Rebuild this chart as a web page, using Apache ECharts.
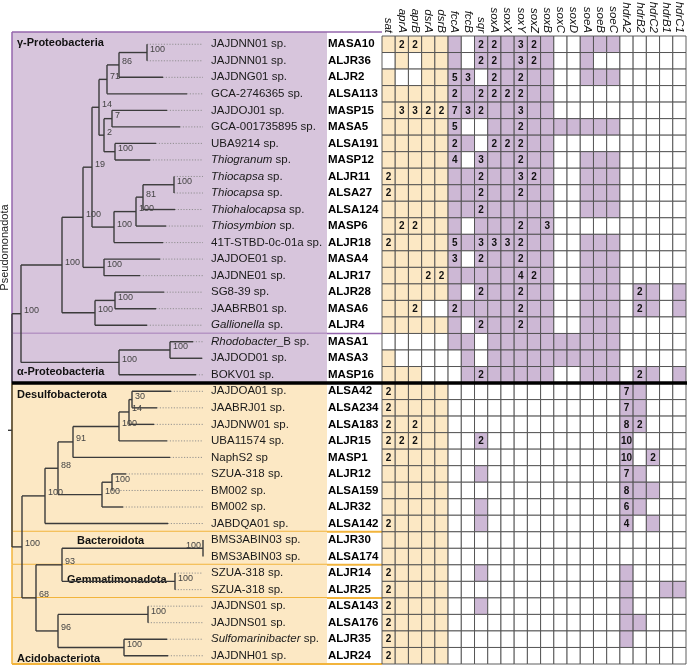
<!DOCTYPE html>
<html><head><meta charset="utf-8">
<script src="https://cdn.jsdelivr.net/npm/echarts@6/dist/echarts.min.js"></script>
<style>html,body{margin:0;padding:0;background:#fff}#c{width:687px;height:666px}</style>
</head><body><div id="c"></div>
<script>
// ---------------- DATA ----------------
const geneNames = ['sat','aprA','aprB','dsrA','dsrB','fccA','fccB','sqr','soxA','soxX','soxY','soxZ','soxB','soxC','soxD','soeA','soeB','soeC','hdrA2','hdrB2','hdrC2','hdrB1','hdrC1'];
const dsrPathwayGenes = ['sat','aprA','aprB','dsrA','dsrB'];

const genomeIds = ['MASA10','ALJR36','ALJR2','ALSA113','MASP15','MASA5','ALSA191','MASP12','ALJR11','ALSA27','ALSA124','MASP6','ALJR18','MASA4','ALJR17','ALJR28','MASA6','ALJR4','MASA1','MASA3','MASP16','ALSA42','ALSA234','ALSA183','ALJR15','MASP1','ALJR12','ALSA159','ALJR32','ALSA142','ALJR30','ALSA174','ALJR14','ALJR25','ALSA143','ALSA176','ALJR35','ALJR24'];

const taxonNames = ['JAJDNN01 sp.','JAJDNN01 sp.','JAJDNG01 sp.','GCA-2746365 sp.','JAJDOJ01 sp.','GCA-001735895 sp.','UBA9214 sp.','*Thiogranum* sp.','*Thiocapsa* sp.','*Thiocapsa* sp.','*Thiohalocapsa* sp.','*Thiosymbion* sp.','41T-STBD-0c-01a sp.','JAJDOE01 sp.','JAJDNE01 sp.','SG8-39 sp.','JAABRB01 sp.','*Gallionella* sp.','*Rhodobacter*_B sp.','JAJDOD01 sp.','BOKV01 sp.','JAJDOA01 sp.','JAABRJ01 sp.','JAJDNW01 sp.','UBA11574 sp.','NaphS2 sp','SZUA-318 sp.','BM002 sp.','BM002 sp.','JABDQA01 sp.','BMS3ABIN03 sp.','BMS3ABIN03 sp.','SZUA-318 sp.','SZUA-318 sp.','JAJDNS01 sp.','JAJDNS01 sp.','*Sulfomarinibacter* sp.','JAJDNH01 sp.'];

// gene copy numbers per genome (0 = absent, 1 = present, >=2 = copies shown)
const copyNumbers = [
  [1,2,2,1,1, 1,0,2,2,1,3,2,1,0,0,1,1,1, 0,0,0,0,0], // MASA10
  [0,1,0,1,1, 1,0,2,2,1,3,2,1,0,0,1,0,0, 0,0,0,0,0], // ALJR36
  [1,0,0,1,1, 5,3,0,2,1,2,1,1,0,0,1,1,1, 0,0,0,0,0], // ALJR2
  [1,1,1,1,1, 2,1,2,2,2,2,1,1,0,0,0,0,0, 0,0,0,0,0], // ALSA113
  [1,3,3,2,2, 7,3,2,1,1,3,1,1,0,0,0,0,0, 0,0,0,0,0], // MASP15
  [1,1,1,1,1, 5,0,0,1,1,2,1,1,1,1,1,1,1, 0,0,0,0,0], // MASA5
  [1,1,1,1,1, 2,1,0,2,2,2,1,1,0,0,0,0,0, 0,0,0,0,0], // ALSA191
  [1,1,1,1,1, 4,0,3,1,1,2,1,1,0,0,1,1,1, 0,0,0,0,0], // MASP12
  [2,1,1,1,1, 1,1,2,1,1,3,2,1,0,0,1,1,1, 0,0,0,0,0], // ALJR11
  [2,1,1,1,1, 1,1,2,1,1,2,1,1,0,0,1,1,1, 0,0,0,0,0], // ALSA27
  [1,1,1,1,1, 1,1,2,1,1,1,1,1,0,0,1,1,1, 0,0,0,0,0], // ALSA124
  [1,2,2,1,1, 1,0,1,1,1,2,1,3,0,0,0,0,0, 0,0,0,0,0], // MASP6
  [2,1,1,1,1, 5,1,3,3,3,2,1,1,0,0,1,1,1, 0,0,0,0,0], // ALJR18
  [1,1,1,1,1, 3,0,2,1,1,2,1,1,0,0,1,1,1, 0,0,0,0,0], // MASA4
  [1,1,1,2,2, 1,1,1,1,1,4,2,1,0,0,1,1,1, 0,0,0,0,0], // ALJR17
  [1,1,1,1,1, 1,0,2,1,1,2,1,1,0,0,1,1,1, 0,2,1,0,1], // ALJR28
  [1,1,2,0,0, 2,1,1,1,1,2,1,1,0,0,1,1,1, 0,2,1,0,1], // MASA6
  [1,1,1,1,1, 1,0,2,1,1,2,1,1,0,0,1,1,1, 0,0,0,0,0], // ALJR4
  [0,0,0,0,0, 1,1,0,1,1,1,1,1,1,1,1,1,1, 0,0,0,0,0], // MASA1
  [1,0,0,0,0, 0,1,0,1,1,1,1,1,1,1,1,1,1, 0,0,0,0,0], // MASA3
  [1,1,1,0,0, 0,1,2,1,1,1,1,1,0,0,1,1,1, 0,2,1,0,1], // MASP16
  [2,1,1,1,1, 0,0,0,0,0,0,0,0,0,0,0,0,0, 7,1,0,0,0], // ALSA42
  [2,1,1,1,1, 0,0,0,0,0,0,0,0,0,0,0,0,0, 7,1,0,0,0], // ALSA234
  [2,1,2,1,1, 0,0,0,0,0,0,0,0,0,0,0,0,0, 8,2,0,0,0], // ALSA183
  [2,2,2,1,1, 0,0,2,0,0,0,0,0,0,0,0,0,0, 10,0,0,0,0], // ALJR15
  [2,1,1,1,1, 0,0,0,0,0,0,0,0,0,0,0,0,0, 10,0,2,0,0], // MASP1
  [1,1,1,1,1, 0,0,1,0,0,0,0,0,0,0,0,0,0, 7,1,0,0,0], // ALJR12
  [1,1,1,1,1, 0,0,0,0,0,0,0,0,0,0,0,0,0, 8,1,1,0,0], // ALSA159
  [1,1,1,1,1, 0,0,1,0,0,0,0,0,0,0,0,0,0, 6,1,0,0,0], // ALJR32
  [2,1,1,1,1, 0,0,1,0,0,0,0,0,0,0,0,0,0, 4,0,1,0,0], // ALSA142
  [1,1,1,1,1, 0,0,0,0,0,0,0,0,0,0,0,0,0, 0,0,0,0,0], // ALJR30
  [1,1,1,1,1, 0,0,0,0,0,0,0,0,0,0,0,0,0, 0,0,0,0,0], // ALSA174
  [2,1,1,1,1, 0,0,1,0,0,0,0,0,0,0,0,0,0, 1,0,0,0,0], // ALJR14
  [2,1,1,1,1, 0,0,0,0,0,0,0,0,0,0,0,0,0, 1,0,0,1,1], // ALJR25
  [2,1,1,1,1, 0,0,1,0,0,0,0,0,0,0,0,0,0, 1,0,0,0,0], // ALSA143
  [2,1,1,1,1, 0,0,0,0,0,0,0,0,0,0,0,0,0, 1,1,0,0,0], // ALSA176
  [2,1,1,1,1, 0,0,0,0,0,0,0,0,0,0,0,0,0, 1,0,0,0,0], // ALJR35
  [2,1,1,1,1, 0,0,0,0,0,0,0,0,0,0,0,0,0, 0,0,0,0,0]  // ALJR24
];

// phylogeny: internal node = [depth, support, children...]; leaf = tip depth (leaves in row order)
const phylogeny =
[12, null,
  [21, 100,
    [62, 100,
      [83, 100,
        [92, 19,
          [99, 14,
            [107, 71,
              [119, 86, [147, 100, 147, 147], 163],
              187],
            [104, 2,
              [112, 7, 167, 180],
              [115, 100, 156, 150]]],
          [114, 100,
            [136, 100,
              [143, 81, [174, 100, 174, 174], 175],
              166],
            163]],
        [104, 100, 160, 140]],
      [95, 100, [115, 100, 164, 156], 147]],
    [119, 100, [170, 100, 193, 202], 196]],
  [22, 100,
    [45, 100,
      [58, 88,
        [73, 91,
          [119, 100,
            [129, 14, [132, 30, 171, 157], 154],
            167],
          170],
        [102, 100, [112, 100, 126, 112], 123]],
      168],
    [36, 68,
      [62, 93, [203, 100, 203, 203], [175, 100, 175, 175]],
      [58, 96, [148, 100, 148, 148], [124, 100, 167, 168]]]]];

const cladeNames = ['γ-Proteobacteria','α-Proteobacteria','Desulfobacterota','Bacteroidota','Gemmatimonadota','Acidobacteriota'];
const cladeFirstRow = [0, 18, 21, 30, 32, 34];
const cladeLastRow  = [17, 20, 29, 31, 33, 37];
const cladeInPseudomonadota = [true, true, false, false, false, false];
const phylumName = 'Pseudomonadota';

// ---------------- LAYOUT / STYLE ----------------
const FONT = '"Liberation Sans", Arial, sans-serif';
const DOTTED_END = 203, LABEL_AT = 211, BOX_LEFT = 12, BOX_RIGHT = 327, PANEL_RIGHT = 382, FULL_RIGHT = 687;
const BOX_PURPLE = '#D7C5DC', CELL_PURPLE = '#CDB8D5', TAN = '#FCE8C4';
const LINE_PURPLE = '#9466AD', LINE_ORANGE = '#F2B43C';
const cladeLabelAnchor = [[17, -0.1], [17, 19.8], [17, 21.2], [77, 30.05], [67, 32.4], [17, 37.2]];

const solidSegs = [], dottedSegs = [], supportLabels = [];
let leafCounter = 0;
function layout(node, parentDepth) {
  if (typeof node === 'number') {
    const row = leafCounter++;
    if (node > parentDepth) solidSegs.push([parentDepth, row, node, row]);
    if (node < DOTTED_END) dottedSegs.push([node, row, DOTTED_END, row]);
    return row;
  }
  const depth = node[0], support = node[1], kids = node.slice(2);
  const ys = kids.map(k => layout(k, depth));
  const y = (ys[0] + ys[ys.length - 1]) / 2;
  solidSegs.push([depth, ys[0], depth, ys[ys.length - 1]]);
  if (parentDepth != null) solidSegs.push([parentDepth, y, depth, y]);
  if (support != null) supportLabels.push([depth, y, support, depth >= DOTTED_END ? 1 : 0]);
  return y;
}
const rootY = layout(phylogeny, null);
solidSegs.push([phylogeny[0] - 4, rootY, phylogeny[0], rootY]);

function lineRender(stroke, width, dash) {
  return function (p, api) {
    const a = api.coord([api.value(0), api.value(1)]);
    const b = api.coord([api.value(2), api.value(3)]);
    return { type: 'line', shape: { x1: a[0], y1: a[1], x2: b[0], y2: b[1] },
      style: { stroke, lineWidth: width, lineDash: dash || null } };
  };
}

// clade boxes and borders
const cladeData = cladeNames.map((n, k) => [cladeFirstRow[k], cladeLastRow[k], k]);
const boxSeries = {
  type: 'custom', xAxisIndex: 0, yAxisIndex: 0, z: 1, silent: true,
  data: cladeData,
  renderItem: function (p, api) {
    const k = api.value(2);
    const first = api.value(0), last = api.value(1);
    const tl = api.coord([BOX_LEFT, first - 0.5]);
    const br = api.coord([BOX_RIGHT, last + 0.5]);
    const pr = api.coord([PANEL_RIGHT, last + 0.5]);
    if (k === 0) tl[1] -= 4;
    const inP = cladeInPseudomonadota[k];
    const children = [
      { type: 'rect', shape: { x: tl[0], y: tl[1], width: br[0] - tl[0], height: br[1] - tl[1] },
        style: { fill: inP ? BOX_PURPLE : TAN } },
      { type: 'line', shape: { x1: tl[0], y1: tl[1], x2: tl[0], y2: br[1] },
        style: { stroke: inP ? LINE_PURPLE : LINE_ORANGE, lineWidth: 1.5 } }
    ];
    const lastOfP = inP && !cladeInPseudomonadota[k + 1];
    if (!lastOfP) children.push({ type: 'line', shape: { x1: tl[0], y1: br[1], x2: pr[0], y2: br[1] },
      style: { stroke: inP ? LINE_PURPLE : LINE_ORANGE, lineWidth: inP ? 1.5 : 2 } });
    if (k === 0) children.push({ type: 'line', shape: { x1: tl[0], y1: tl[1], x2: pr[0], y2: tl[1] },
      style: { stroke: LINE_PURPLE, lineWidth: 1.5 } });
    const an = cladeLabelAnchor[k];
    const lp = api.coord([an[0], an[1]]);
    children.push({ type: 'text', z2: 10, style: { text: cladeNames[k], x: lp[0], y: lp[1],
      align: 'left', verticalAlign: 'middle', font: 'bold 11px ' + FONT, fill: '#111' } });
    return { type: 'group', children };
  }
};

// thick separator between Pseudomonadota and the rest
const splitRow = cladeLastRow[cladeInPseudomonadota.lastIndexOf(true)] + 0.5;
const separatorSeries = {
  type: 'custom', xAxisIndex: 0, yAxisIndex: 0, z: 20, silent: true,
  data: [[BOX_LEFT, splitRow, FULL_RIGHT, splitRow]],
  renderItem: lineRender('#000', 3.5)
};

const phylumSeries = {
  type: 'custom', xAxisIndex: 0, yAxisIndex: 0, z: 6, silent: true,
  data: [[5, 12.3]],
  renderItem: function (p, api) {
    const c = api.coord([api.value(0), api.value(1)]);
    return { type: 'text', x: c[0], y: c[1], rotation: Math.PI / 2,
      style: { text: phylumName, x: 0, y: 0, align: 'center', verticalAlign: 'middle', font: '11px ' + FONT, fill: '#222' } };
  }
};

const taxonSeries = {
  type: 'custom', xAxisIndex: 0, yAxisIndex: 0, z: 6, silent: true,
  data: taxonNames.map((n, i) => [LABEL_AT, i]),
  renderItem: function (p, api) {
    const c = api.coord([api.value(0), api.value(1)]);
    const name = taxonNames[p.dataIndex].replace(/\*([^*]+)\*/g, '{i|$1}');
    return { type: 'text', style: { text: name, x: c[0], y: c[1], align: 'left', verticalAlign: 'middle',
      font: '11.5px ' + FONT, fill: '#1a1a1a', rich: { i: { fontStyle: 'italic', fontSize: 11.5, fontFamily: FONT, fill: '#1a1a1a' } } } };
  }
};

const supportSeries = {
  type: 'custom', xAxisIndex: 0, yAxisIndex: 0, z: 7, silent: true,
  data: supportLabels,
  renderItem: function (p, api) {
    const c = api.coord([api.value(0), api.value(1)]);
    const left = api.value(3) === 1;
    return { type: 'text', style: { text: String(api.value(2)), x: left ? c[0] - 2 : c[0] + 3, y: c[1] - 3,
      align: left ? 'right' : 'left', verticalAlign: 'middle', font: '9px ' + FONT, fill: '#444' } };
  }
};

const cells = [];
copyNumbers.forEach((r, i) => r.forEach((v, j) => cells.push([j, i, v])));
const heatSeries = {
  type: 'custom', xAxisIndex: 1, yAxisIndex: 1, z: 3, silent: true,
  data: cells,
  renderItem: function (p, api) {
    const j = api.value(0), i = api.value(1), v = api.value(2);
    const c = api.coord([j, i]);
    const s = api.size([1, 1]);
    const fill = v === 0 ? '#ffffff' : (dsrPathwayGenes.indexOf(geneNames[j]) >= 0 ? TAN : CELL_PURPLE);
    const ch = [{ type: 'rect', shape: { x: c[0] - s[0] / 2, y: c[1] - s[1] / 2, width: s[0], height: s[1] },
      style: { fill, stroke: '#4d4d4d', lineWidth: 0.9 } }];
    if (v >= 2) ch.push({ type: 'text', style: { text: String(v), x: c[0], y: c[1] + 0.5, align: 'center',
      verticalAlign: 'middle', font: 'bold 10px ' + FONT, fill: '#111' } });
    return { type: 'group', children: ch };
  }
};

const chart = echarts.init(document.getElementById('c'), null, { renderer: 'canvas' });
chart.setOption({
  animation: false,
  backgroundColor: '#ffffff',
  grid: [
    { left: 0, top: 36, width: 382, height: 628, outerBoundsMode: 'none' },
    { left: 382, top: 36, width: 304, height: 628, outerBoundsMode: 'none' }
  ],
  xAxis: [
    { type: 'value', gridIndex: 0, min: 0, max: PANEL_RIGHT, show: false },
    { type: 'category', gridIndex: 1, data: geneNames, position: 'top',
      axisLine: { show: false }, axisTick: { show: false }, splitLine: { show: false },
      axisLabel: { interval: 0, rotate: 90, margin: 3, fontStyle: 'italic', fontSize: 11.5, fontFamily: FONT, color: '#111' } }
  ],
  yAxis: [
    { type: 'value', gridIndex: 0, min: -0.5, max: genomeIds.length - 0.5, inverse: true, show: false },
    { type: 'category', gridIndex: 1, data: genomeIds, inverse: true,
      axisLine: { show: false }, axisTick: { show: false }, splitLine: { show: false },
      axisLabel: { interval: 0, align: 'left', margin: 54, fontWeight: 'bold', fontSize: 11.5, fontFamily: FONT, color: '#000' } }
  ],
  series: [
    boxSeries,
    { type: 'custom', xAxisIndex: 0, yAxisIndex: 0, z: 4, silent: true, data: dottedSegs, renderItem: lineRender('#8a8a8a', 0.9, [1.2, 1.6]) },
    { type: 'custom', xAxisIndex: 0, yAxisIndex: 0, z: 5, silent: true, data: solidSegs, renderItem: lineRender('#3b3b3b', 1.4) },
    phylumSeries, taxonSeries, supportSeries, heatSeries, separatorSeries
  ]
});
</script></body></html>
